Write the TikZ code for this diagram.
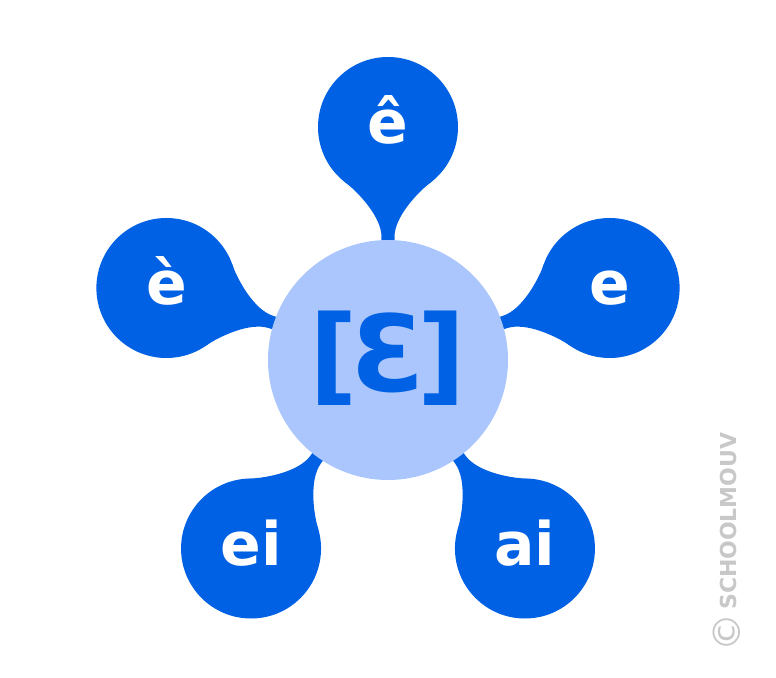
\documentclass[tikz,border=0pt]{standalone}
\usepackage{fontspec}
\newfontfamily\leaffont{DejaVu Sans}
\newfontfamily\hubfont{DejaVu Sans}
\usepackage{tikz}
\definecolor{leafblue}{RGB}{0,97,229}
\definecolor{hubblue}{RGB}{170,198,252}
\definecolor{markgray}{RGB}{200,200,200}
\pgfdeclarelayer{stems}
\pgfsetlayers{stems,main}

\begin{document}
\begin{tikzpicture}[x=1pt,y=1pt,
        leaf/.style={circle, fill=leafblue, minimum size=140pt, inner sep=0pt, text=white,
            text height=34pt, text depth=0pt, font={\leaffont\bfseries\fontsize{60}{60}\selectfont}},
        hub/.style={circle, fill=hubblue, minimum size=240pt, inner sep=0pt, text=leafblue,
            text height=62pt, text depth=0pt, font={\hubfont\bfseries\fontsize{106}{106}\selectfont}},
        stem/.style={fill=leafblue},
        logo/.style={text=markgray, inner sep=0pt, font={\hubfont\fontsize{22}{22}\selectfont}}]
        \useasboundingbox (-388,-317) rectangle (388,360);

        \node[hub] (hub) at (0,0) {[\kern-7ptƐ\kern-7pt]};
        \node[leaf] (ecirc) at (90:233) {ê};
        \node[leaf] (egrave) at (162:233) {è};
        \node[leaf] (e) at (18:233) {e};
        \node[leaf] (ei) at (234:233) {ei};
        \node[leaf] (ai) at (306:233) {ai};

        % stems from each bubble to the hub
        \begin{pgfonlayer}{stems}
        \foreach \n/\a in {ecirc/90, egrave/162, e/18, ei/234, ai/306}
            \fill[stem, shift={(\n.center)}, rotate=\a+180]
                (55,43) .. controls (66,29) and (90,6.5) .. (110,6.5) -- (125,6.5)
                -- (125,-6.5) -- (110,-6.5) .. controls (90,-6.5) and (66,-29) .. (55,-43) -- cycle;
        \end{pgfonlayer}

        \node[logo, rotate=90] (mark) at (339,-182)
            {{\fontsize{38}{38}\selectfont\raisebox{-4pt}{©}}\,{\bfseries SCHOOLMOUV}};
\end{tikzpicture}
\end{document}
